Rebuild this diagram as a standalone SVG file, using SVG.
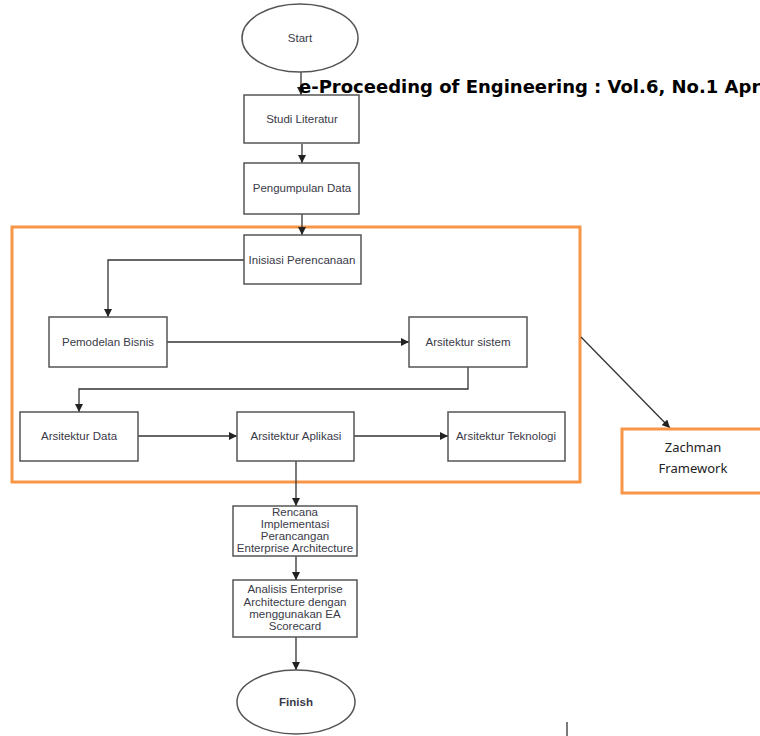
<svg xmlns="http://www.w3.org/2000/svg" width="760" height="736" viewBox="0 0 760 736">
<style>
.box{fill:#fff;stroke:#555;stroke-width:1.5}
.t{font-family:"Liberation Sans",Arial,sans-serif;font-size:11.5px;fill:#3a3a48;text-anchor:middle}
.c{fill:none;stroke:#333;stroke-width:1.3}
.org{fill:none;stroke:#F79646;stroke-width:3}
</style>
<defs>
<marker id="ah" viewBox="0 0 10 10" refX="10" refY="5" markerWidth="8" markerHeight="8" markerUnits="userSpaceOnUse" orient="auto">
<path d="M0,0 L10,5 L0,10 z" fill="#222"/>
</marker>
</defs>
<rect x="0" y="0" width="760" height="736" fill="#fff"/>
<g id="group-frame"><rect class="org" x="12" y="227" width="568" height="255"/></g>
<g id="connectors">
<line class="c" x1="301" y1="72" x2="301" y2="95" marker-end="url(#ah)"/>
<line class="c" x1="302" y1="144" x2="302" y2="163" marker-end="url(#ah)"/>
<line class="c" x1="302" y1="214" x2="302" y2="235" marker-end="url(#ah)"/>
<polyline class="c" points="244,260 108,260 108,317" marker-end="url(#ah)"/>
<line class="c" x1="167" y1="342" x2="409" y2="342" marker-end="url(#ah)"/>
<polyline class="c" points="468,367 468,389 79,389 79,412" marker-end="url(#ah)"/>
<line class="c" x1="138" y1="436" x2="237" y2="436" marker-end="url(#ah)"/>
<line class="c" x1="354" y1="436" x2="448" y2="436" marker-end="url(#ah)"/>
<line class="c" x1="296" y1="461" x2="296" y2="506" marker-end="url(#ah)"/>
<line class="c" x1="296" y1="556" x2="296" y2="580" marker-end="url(#ah)"/>
<line class="c" x1="296" y1="637" x2="296" y2="670" marker-end="url(#ah)"/>
<line class="c" x1="581" y1="337" x2="670" y2="428" marker-end="url(#ah)"/>
<line class="c" x1="567" y1="722" x2="567" y2="736"/>
</g>
<g id="start"><ellipse class="box" cx="300" cy="38" rx="58" ry="34"/><text class="t" x="300" y="42">Start</text></g>
<g id="title"><text x="299" y="93" font-family="DejaVu Sans,sans-serif" font-weight="bold" font-size="18" fill="#000">e-Proceeding of Engineering : Vol.6, No.1 Apr</text></g>
<g id="studi"><rect class="box" x="244" y="95" width="115" height="48"/><text class="t" x="302" y="123">Studi Literatur</text></g>
<g id="pengumpulan"><rect class="box" x="244" y="163" width="115" height="51"/><text class="t" x="302" y="192">Pengumpulan Data</text></g>
<g id="inisiasi"><rect class="box" x="244" y="235" width="117" height="49"/><text class="t" x="302" y="264">Inisiasi Perencanaan</text></g>
<g id="pemodelan"><rect class="box" x="49" y="317" width="118" height="50"/><text class="t" x="108" y="346">Pemodelan Bisnis</text></g>
<g id="sistem"><rect class="box" x="409" y="317" width="118" height="50"/><text class="t" x="468" y="346">Arsitektur sistem</text></g>
<g id="data"><rect class="box" x="20" y="412" width="118" height="49"/><text class="t" x="79" y="440">Arsitektur Data</text></g>
<g id="aplikasi"><rect class="box" x="237" y="412" width="117" height="49"/><text class="t" x="296" y="440">Arsitektur Aplikasi</text></g>
<g id="teknologi"><rect class="box" x="448" y="412" width="117" height="49"/><text class="t" x="506" y="440">Arsitektur Teknologi</text></g>
<g id="zachman"><rect class="org" x="622" y="429" width="145" height="64"/><text x="693" y="452" font-family="Noto Sans,sans-serif" font-size="13" fill="#222" text-anchor="middle">Zachman</text><text x="693" y="473" font-family="Noto Sans,sans-serif" font-size="13" fill="#222" text-anchor="middle">Framework</text></g>
<g id="rencana"><rect class="box" x="233" y="506" width="124" height="50"/>
<text class="t" x="295" y="516">Rencana</text><text class="t" x="295" y="528">Implementasi</text><text class="t" x="295" y="540">Perancangan</text><text class="t" x="295" y="552">Enterprise Architecture</text></g>
<g id="analisis"><rect class="box" x="233" y="580" width="124" height="57"/>
<text class="t" x="295" y="593">Analisis Enterprise</text><text class="t" x="295" y="606">Architecture dengan</text><text class="t" x="295" y="618">menggunakan EA</text><text class="t" x="295" y="630">Scorecard</text></g>
<g id="finish"><ellipse class="box" cx="296" cy="702" rx="59" ry="32"/><text class="t" x="296" y="706" font-weight="bold">Finish</text></g>
</svg>
